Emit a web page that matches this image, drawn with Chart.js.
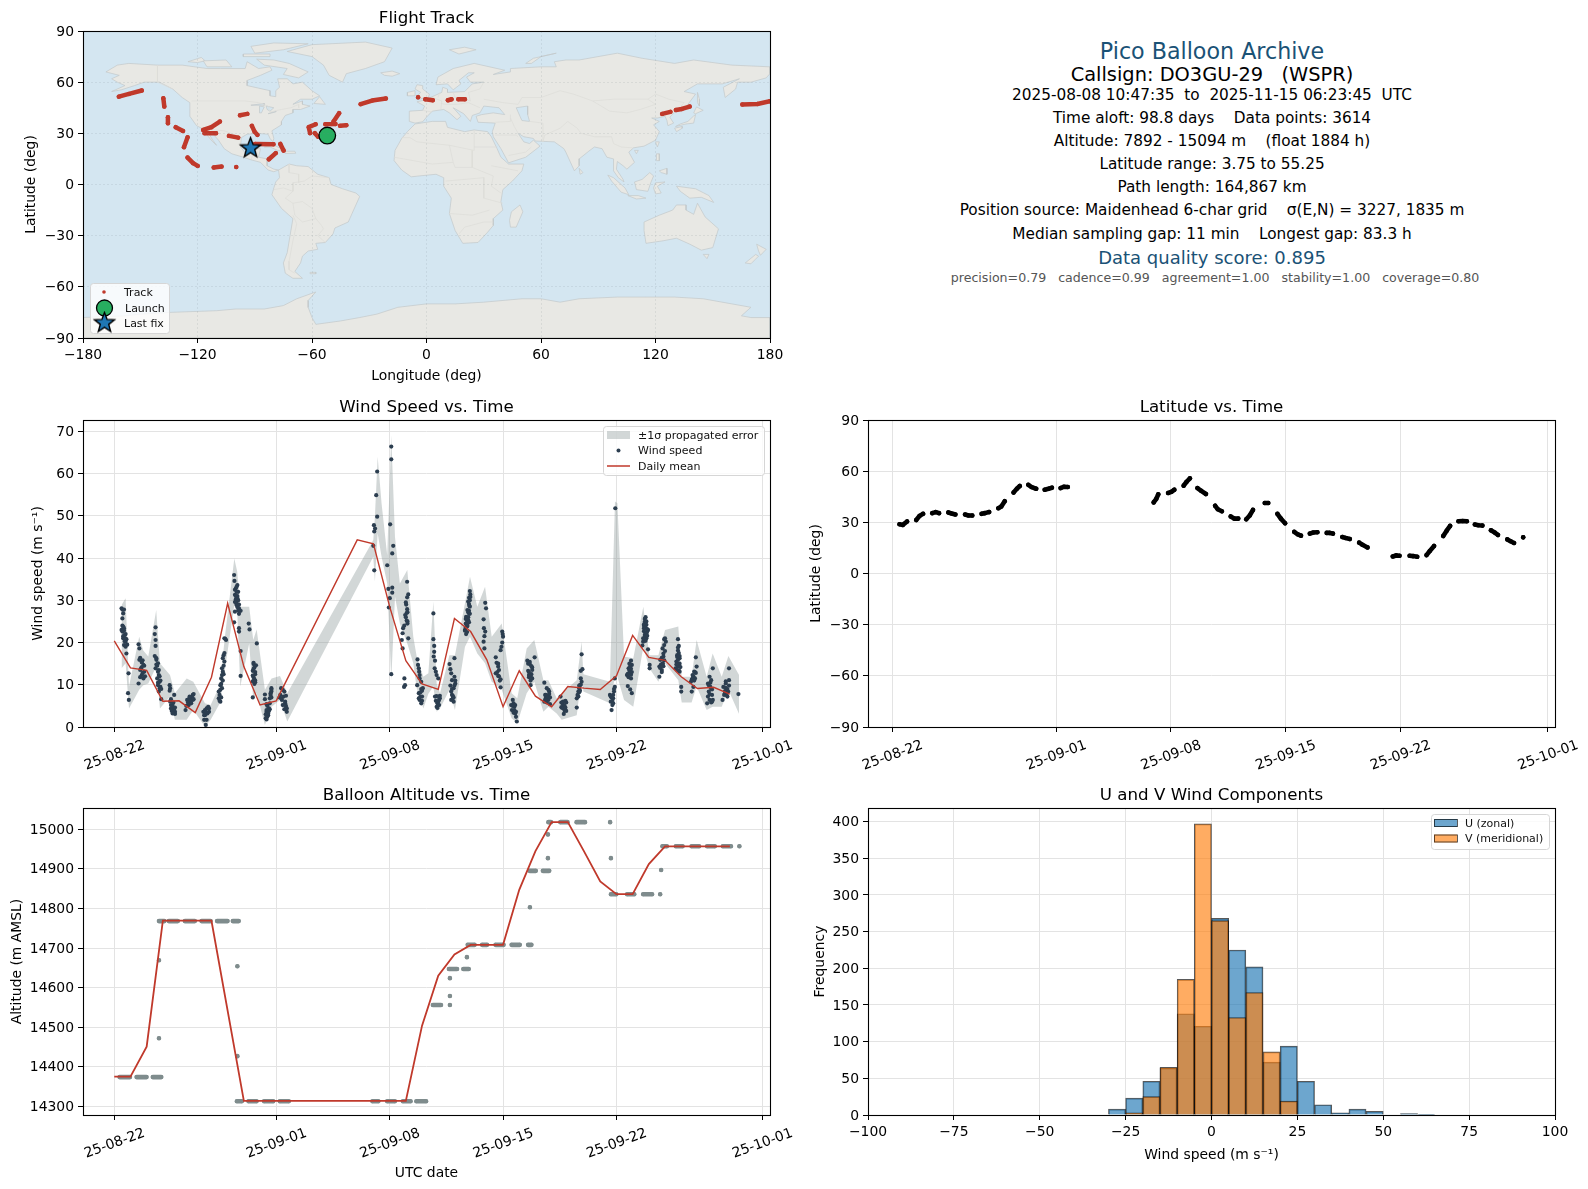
<!DOCTYPE html>
<html>
<head>
<meta charset="utf-8">
<title>Pico Balloon Archive</title>
<script src="https://cdn.jsdelivr.net/npm/chart.js@4/dist/chart.umd.min.js"></script>
<style>
  html, body { margin: 0; padding: 0; background: #fff; width: 1588px; height: 1189px; overflow: hidden; }
  body { position: relative; font-family: "DejaVu Sans", sans-serif; }
  canvas { position: absolute; }
  .info { position: absolute; transform: translate(-50%, -50%); white-space: pre; line-height: 1; }
</style>
</head>
<body>
<canvas id="mapChart"></canvas>
<canvas id="windChart"></canvas>
<canvas id="latChart"></canvas>
<canvas id="altChart"></canvas>
<canvas id="histChart"></canvas>
<script>
// tick labels, x positions are days after 2025-08-22
const dateTicks = [0, 10, 17, 24, 31, 40];
const dateLabels = ["25-08-22", "25-09-01", "25-09-08", "25-09-15", "25-09-22", "25-10-01"];
const lonTicks = [-180, -120, -60, 0, 60, 120, 180];
const latTicks = [-90, -60, -30, 0, 30, 60, 90];
const windTicks = [0, 10, 20, 30, 40, 50, 60, 70];
const altTicks = [14300, 14400, 14500, 14600, 14700, 14800, 14900, 15000];
const histXTicks = [-100, -75, -50, -25, 0, 25, 50, 75, 100];
const histYTicks = [0, 50, 100, 150, 200, 250, 300, 350, 400];

// text block, top right
const infoLines = [
  ["Pico Balloon Archive", 1212, 51, 22.2, "#1a5276"],
  ["Callsign: DO3GU-29   (WSPR)", 1212, 75, 19.4, "#000"],
  ["2025-08-08 10:47:35  to  2025-11-15 06:23:45  UTC", 1212, 96, 15.3, "#000"],
  ["Time aloft: 98.8 days    Data points: 3614", 1212, 119, 15.3, "#000"],
  ["Altitude: 7892 - 15094 m    (float 1884 h)", 1212, 141.5, 15.3, "#000"],
  ["Latitude range: 3.75 to 55.25", 1212, 165, 15.3, "#000"],
  ["Path length: 164,867 km", 1212, 188, 15.3, "#000"],
  ["Position source: Maidenhead 6-char grid    σ(E,N) = 3227, 1835 m", 1212, 211, 15.3, "#000"],
  ["Median sampling gap: 11 min    Longest gap: 83.3 h", 1212, 234.5, 15.3, "#000"],
  ["Data quality score: 0.895", 1212, 258, 18, "#1a5276"],
  ["precision=0.79   cadence=0.99   agreement=1.00   stability=1.00   coverage=0.80", 1215, 278, 12.6, "#555"]
];

// flight track, lon/lat, null breaks the line
const trackPath = [
  [-161.2,51.5],[-155.9,53.1],[-149.2,55.1],null,[-137.9,50.6],[-137.4,45.7],null,[-135.5,39.4],[-135.5,35.9],null,
  [-131.4,33.6],[-127.6,31.4],null,[-125.2,27.7],[-127.1,21.9],null,[-125.2,15.8],[-122.3,12.5],[-119.9,10.9],null,
  [-111.5,10],[-107.4,10.5],null,[-99.7,10.2],null,[-117,32],[-112.7,33.6],[-108.3,36.9],null,[-116.3,30.1],[-110.3,30.1],null,
  [-103.5,28.5],[-98.7,27.5],null,[-97.7,40.6],[-93.9,41.4],null,[-91.5,34.4],[-90.1,31],[-88.6,29.1],null,
  [-89.8,23.8],[-80.2,23.6],null,[-76.6,23.8],[-74.9,19.9],null,[-82.6,14.8],[-79,18.4],null,
  [-61,30.1],[-61.7,33.6],[-58.1,35.3],null,[-58.5,30.1],[-56.9,28.1],null,[-53,35.3],[-47.7,35.5],null,[-45.3,34.4],[-42,34.8],null,
  [-48.7,36.9],[-45.8,41.8],null,[-34.5,47.1],[-28.5,49.2],[-21.3,50.4],null,[-4.4,51.2],null,[-0.6,50],[3.3,49.4],null,
  [11.2,49.4],[13.1,50],null,[16.7,50],[20.1,50],null,[123.5,41.4],[127.8,42.6],null,[130.7,43.7],[133.8,44.3],[137.9,45.7],null,
  [165.5,46.9],[173.4,47.2],[179.9,48.8]
];
const launchFix = [[-52, 28.7]];
const lastFix = [[-92.2, 21.3]];

// land outlines
const landNorthAmerica = [[-168,66],[-162,70],[-156,71],[-141,70],[-128,70],[-115,68],[-108,68],[-95,68],[-94,72],[-88,68],[-82,69],[-81,67],[-87,64],[-94,61],[-94,58],[-88,56.5],[-82,55],[-82,52],[-79,51.5],[-79,55],[-77,57],[-78,62],[-73,62],[-70,59],[-65,60],[-60,55],[-56,52],[-60,50],[-66,50],[-70,47],[-65,49],[-65,47],[-61,46],[-66,44],[-70,44],[-70,42],[-74,40.5],[-76,37],[-76,35],[-81,31.5],[-80,27],[-80.5,25],[-82,27],[-83,29.5],[-89,30],[-94,29.5],[-97,27.5],[-97.5,22],[-95,18.5],[-91,18.5],[-90,21],[-87,21],[-88,16],[-83.5,15],[-83.5,11],[-80,9],[-77.5,8.5],[-80,7.5],[-83,8.5],[-87,13],[-92,14.5],[-96,16],[-102,18],[-106,21],[-109,26],[-113,31],[-115,31.5],[-112,26],[-110,23],[-112,25],[-115,29],[-117,32.5],[-120.5,34.5],[-124,40],[-124,48],[-128,51],[-133,56],[-140,60],[-148,60],[-153,58],[-160,55.5],[-165,54.5],[-158,58],[-162,60],[-165,62],[-161,64]];
const landSouthAmerica = [[-77.5,8.5],[-72,12],[-68,11],[-62,10.5],[-57,6],[-51,4],[-50,0],[-44,-2.5],[-37,-5],[-35,-7],[-37,-12],[-39,-17],[-41,-22],[-48,-25.5],[-49,-29],[-53,-34],[-58,-34.5],[-57,-38],[-62,-39],[-65,-42],[-66,-46],[-69,-51],[-65,-55],[-70,-55],[-74,-52],[-75,-46],[-73,-40],[-71.5,-30],[-70,-20],[-76,-14],[-81,-6],[-80,-2],[-79,1.5],[-77,4]];
const landAfrica = [[-6,35.5],[3,37],[10,37],[11,33.5],[20,31],[25,32],[32,31],[34,28],[37,21],[39,16],[43,12],[51,12],[50,8],[45,2],[40,-3],[39,-10],[40,-15],[35,-20],[35,-24],[32,-28],[27,-34],[19,-34.5],[15,-27],[12,-17],[13,-8],[9,-1],[9,4],[5,6],[-4,5],[-8,4.5],[-13,8.5],[-17,14],[-16.5,20],[-13,27],[-10,31]];
const landEurasia = [[-9,37],[-9,43],[-2,43.5],[-1,46],[-5,48.5],[-1,49.5],[4,52],[8,54],[8.5,57],[11,56],[11,54],[20,54.5],[24,59],[30,60],[23,60],[21,63],[25,65.5],[22,65.5],[17,61],[18,59],[14,55.5],[11,59],[5,58.5],[6,63],[14,68],[25,71],[41,67],[35,64.5],[44,66],[44,68],[60,69],[68,69],[67,72],[73,73],[80,73],[100,77],[113,74],[130,71],[140,73],[160,70],[180,69],[180,65],[178,62.5],[170,60],[163,60],[162,56],[156.5,51],[155.5,57],[164,62],[155,59],[142,59],[135,54.5],[141,53],[135,44],[130,42.5],[127.5,39.5],[129.5,36],[126.5,34.5],[126,37.5],[125,40],[121,39],[118,39],[122,37],[119,35],[122,31],[120,26],[114,22.5],[108.5,21.5],[106,19],[109,13],[105,9],[103,11],[100,13.5],[99.5,9],[103,3],[103.5,1.5],[100.5,4],[98,8],[98,15],[94.5,16],[92,21],[88,22],[85,19.5],[80,15],[80,11],[77.5,8],[73,19],[72,21],[67,25],[57,25.5],[56,27],[51,28],[48,30],[51,25],[54,24],[56,26],[59.5,22.5],[52,16],[43,12.7],[39,21],[35,28],[34.5,31],[36,36],[27,36.5],[26,40],[29,41],[35,42],[41,41],[38,45],[30,46],[28,42],[24,40.5],[23,37],[19.5,41.5],[14,45],[18,40],[16,38],[12,42],[9,44],[3,43],[0,39.5],[-2,36.8],[-6,36]];
const landAntarctica = [[-180,-78],[-158,-77],[-150,-76],[-135,-75],[-110,-74],[-100,-73],[-85,-73],[-75,-71],[-68,-67],[-58,-63],[-62,-68],[-62,-72],[-60,-78],[-58,-82],[-45,-80],[-35,-78],[-26,-76],[-15,-72],[0,-70],[15,-70],[30,-69],[50,-67],[60,-67],[70,-69],[80,-67],[100,-66],[115,-66],[130,-66],[145,-67],[160,-70],[170,-72],[165,-77],[170,-78],[180,-78],[180,-90],[-180,-90]];
const landGreenland = [[-73,78],[-60,82],[-32,83.5],[-18,80],[-22,72],[-32,68],[-42,65],[-44,60],[-51,64],[-54,70],[-60,75]];
const landAustralia = [[114,-22],[122,-18],[129,-15],[131,-12],[136,-12],[136,-15],[140,-17.5],[142,-11],[146,-19],[153,-26],[150,-37],[144,-38.5],[138,-35],[131,-31.5],[124,-33],[115,-34.5],[114,-27]];
const landIslands = [
  [[-80,73],[-72,71],[-62,66],[-67,62.5],[-75,64.5],[-73,68],[-85,70],[-89,73.5]],
  [[-117,72.5],[-105,73],[-102,69],[-115,69]],
  [[-90,77],[-75,79],[-62,82.5],[-80,83],[-92,81]],
  [[-125,72],[-118,74.5],[-116,72.5],[-120,71.5]],
  [[-96,75],[-82,75],[-82,76.5],[-96,76.5]],
  [[-59,47.5],[-53,47],[-56,51.5]],
  [[142,54],[143,50],[143,46],[142,48]],
  [[141,41.5],[145,43.5],[141.5,45.5],[140,42]],
  [[130.5,34],[136,35.5],[140,36],[141,41],[139.8,40],[137,37],[133,35.5]],
  [[130,33],[134,34],[134,33],[131,31]],
  [[120,25],[122,25],[121,22]],
  [[109,20],[111,20],[110,18]],
  [[120.5,18],[122,18],[122,14],[120.5,14]],
  [[122,8],[126,9.5],[126,6],[123,7]],
  [[109,1.5],[113,3],[117,7],[119,5],[117.5,1],[116,-4],[110,-3]],
  [[95,5.5],[98,4],[104,-2],[106,-6],[102,-4.5],[97,2]],
  [[105.5,-6.5],[111,-6.5],[115,-8],[110,-8.5]],
  [[120,1],[125,1.5],[121,-1],[123,-5],[120,-5.5],[119,-2]],
  [[131,-1],[141,-2.5],[148,-6.5],[150.5,-10.5],[144,-7.5],[138,-8],[133,-4]],
  [[173,-35],[178,-38],[175,-41.5],[174,-39]],
  [[172.5,-41],[174,-42],[170,-46.5],[167,-46]],
  [[145,-41],[148,-41],[147,-43.5]],
  [[49,-12],[50.5,-16],[47,-25],[44,-25],[43.5,-21],[44.5,-16]],
  [[80,9.5],[82,7],[80.5,6]],
  [[-5,50],[1,51],[1.5,53],[-2,56],[-2,58],[-5,58.5],[-6,56],[-3,54],[-5,52]],
  [[-10,52],[-6,52],[-6,55],[-10,54]],
  [[-24,65.5],[-18,66.5],[-14,65],[-18,63.5],[-22,64]],
  [[12,79],[20,80.5],[26,79],[17,76.5]],
  [[52,71],[56,74],[68,77],[60,75],[55,71]],
  [[-85,22],[-80,23],[-74,20],[-78,20],[-82,22]],
  [[-74,19.5],[-69,19.5],[-68.5,18.3],[-74,18.2]],
  [[-61,-51.5],[-58,-51.5],[-58,-52.3],[-61,-52.3]]
];
const waterShapes = [
  [[47,45],[53,46],[53,41],[54,37],[50,37.5],[49,40]],
  [[-92,46.5],[-85,47.5],[-85,46.5],[-90,46.5]],
  [[-87.5,46],[-85,45.5],[-86.5,42],[-87.5,42]],
  [[-84,46],[-80,45],[-82,43],[-83.5,44]],
  [[-83,41.5],[-79,43],[-79,42.5]]
];
const borderLines = [
  [-141,70],[-141,60],[-133,56],null,[-123,49],[-95,49],[-88,48],[-83,46],[-82,42.5],[-76,44],[-71,45],[-67,47],[-67,45],null,
  [-117,32.5],[-106,31.5],[-101,29.5],[-97,26],null,[-92,14.5],[-91,17.5],[-89,18],null,
  [-51,4],[-60,5],[-64,2],[-70,1],[-70,-4],[-74,-8],[-70,-11],[-65,-10],[-60,-14],[-58,-20],[-55,-24],[-54,-26],[-57,-30],[-53,-34],null,
  [-70,-18],[-68,-23],[-70,-33],[-72,-45],[-72,-50],[-69,-52],null,[-72,12],[-72,7],[-67,6],[-67,1],null,[-80,-3],[-75,-2],[-70,-4],null,
  [-70,-11],[-69,-18],[-65,-22],[-58,-20],null,
  [-13,27.5],[-8.7,27.5],[-5,25],[12,23],[25,20],[25,32],null,[25,22],[37,22],null,[12,23],[14,13],[3,12],[-12,15],[-17,16],null,
  [24,20],[24,10],[15,10],[14,13],null,[24,10],[35,5],[34,-1],[39,-5],null,[10,2],[30,4],[30,-8],[40,-11],null,[12,-17],[24,-18],[33,-15],null,
  [17,-29],[20,-25],[30,-22],[35,-22],null,[34,11],[48,8],null,
  [-1.8,43.4],[3,42.5],null,[3,51],[8,49],[7.5,44],null,[6,51],[7,54],null,[14,54],[15,51],[23,49],[22,54],[28,56],[30,60],null,
  [28,45],[22,48],[16,47],[10,47],[7.5,47.5],null,
  [30,50],[40,48],[48,47],[50,51],[60,51],[70,55],[77,53],[87,49],[98,50],[108,50],[116,50],[120,53],[127,50],[135,48],[131,43],null,
  [87,49],[96,43],[105,42],[112,44],[120,47],[116,50],null,[74,37],[79,33],[81,30],[88,28],[97,28],[98,24],[102,22],[108,21.5],null,
  [61,25],[62,29],[70,33],[74,37],null,[44,39],[46,34],[48,30],null,[61,25],[61,36],[54,37],null,[36,36.5],[44,37],[44,41],null,
  [36,29],[47,29],[48,28],null,[43,17],[52,19],[55,22]
];

// wind speed: day, m/s, one row per cluster of dots
const windPoints = [
  [0.45,28.1],[0.55,26.9],[0.5,25.7],[0.6,23.4],[0.5,22.6],[0.65,21.8],[0.55,21],[0.7,20.2],[0.6,19.4],[0.75,17.4],[0.88,12.7],[0.85,8],[0.9,6.4],
  [0.5,24],[0.6,22.8],[0.7,22],[0.55,21.5],[0.75,20.8],[0.65,20.3],[0.8,19.5],[0.45,23],[0.55,23.8],[0.65,21],[0.7,19],[0.5,27.8],[0.6,27.8],
  [1.5,19.6],[1.55,18.6],[1.55,15.9],[1.7,15.3],[1.8,14.7],[1.65,13.9],[1.85,13.1],[1.7,12.3],[1.8,11.5],[1.5,10.3],
  [1.6,16.4],[1.75,15.8],[1.85,14.5],[1.6,13.5],[1.75,12.8],[1.9,12],[1.6,11.8],[1.7,14.2],
  [2.55,23.6],[2.5,22],[2.55,20.6],[2.55,19.2],[2.5,16.8],[2.6,15.9],[2.7,15.1],[2.55,13.9],[2.7,13.1],[2.75,12.3],[2.65,11.5],[2.8,10.7],[2.7,9.9],[2.8,9.2],[2.75,8.4],[2.9,6.6],
  [2.6,16.3],[2.65,14.5],[2.75,13.5],[2.8,12],[2.85,11],[2.85,9.5],[2.6,14.8],[2.7,10.5],[2.9,9],
  [3.42,9.9],[3.45,9.2],[3.7,7.6],[3.45,6],[3.6,5.2],[3.5,4.4],[3.75,3.6],[3.75,3.1],
  [3.5,5.2],[3.6,4.6],[3.7,4],[3.55,3.8],[3.65,5.8],[3.75,4.6],[3.42,8.6],[3.6,3.2],[3.5,6.6],
  [4.85,7.6],[4.7,6.8],[4.5,6.4],[4.75,5.6],[4.4,4],[4.6,5.2],[4.85,6.4],
  [4.6,6.6],[4.7,6],[4.8,7],[4.9,7.8],[4.55,5.8],[4.45,5],[4.65,7.2],[4.9,6.6],
  [5.7,4.4],[5.85,3.6],[5.55,2.8],[5.7,1.7],[5.6,2.8],[5.65,0.5],[5.5,3.6],
  [5.6,4],[5.75,3.2],[5.8,4.8],[5.65,3.6],[5.85,4.4],[5.55,1.7],
  [6.8,21],[6.9,20.6],[6.75,17],[6.7,16.3],[6.8,15.5],[6.65,13.9],[6.7,13.1],[6.65,12.3],[6.6,11.5],[6.55,9.9],[6.45,8.4],[6.5,7.6],[6.45,6.8],[6.55,6],
  [6.55,8.8],[6.6,7],[6.5,6.2],[6.65,9.2],[6.7,11],[6.75,14.5],[6.8,17.5],[6.75,12.5],[6.6,10.2],[6.85,20.9],
  [7.4,36],[7.42,34.6],[7.6,33.6],[7.5,32.8],[7.65,32],[7.45,31.3],[7.6,30.5],[7.5,29.7],[7.55,28.9],[7.7,28.1],[7.45,27.3],[7.7,26.8],[7.4,24.8],[7.7,23.4],[7.7,22.6],[7.8,18],[7.8,12.1],
  [7.45,32.5],[7.55,32],[7.6,31],[7.5,30.2],[7.65,30],[7.55,29.2],[7.6,28.4],[7.7,29],[7.8,27.5],[7.5,31],[7.65,27.6],[7.55,33.2],[7.45,29.6],
  [8.3,24.5],[8.35,23.1],[8.8,19.8],[8.6,14.9],[8.65,14.1],[8.55,13.3],[8.7,12.5],[8.6,11.8],[8.7,11],[8.65,10.2],[8.55,7],
  [8.6,13.8],[8.7,13],[8.55,12.2],[8.65,11.3],[8.75,14.6],[8.7,10.6],[8.6,15.2],[8.55,10.8],
  [9.3,7.7],[9.3,6.6],[9.7,9.2],[9.7,8.4],[9.65,7.6],[9.6,6.8],[9.55,4.4],[9.4,3.6],[9.5,2.8],[9.35,2.1],[9.45,5],[9.6,4.2],[9.4,5.4],
  [9.4,4],[9.5,3.2],[9.45,2.4],[9.55,3.8],[9.35,3],[9.4,1.8],[9.65,8],[9.7,7],[9.6,5.6],[9.7,8.8],
  [10.3,9.2],[10.5,8.4],[10.25,7.6],[10.2,7],[10.55,6],[10.4,5.2],[10.6,4.4],[10.65,3.6],[10.35,6.4],
  [10.45,7.2],[10.55,5.6],[10.6,5],[10.5,4.2],[10.65,4.4],[10.4,8.8],[10.3,6.8],[10.6,7.4],
  [16.23,60.5],[16.17,54.9],[16.23,49.8],[16.03,47.8],[16.1,47],[16.05,46.3],[15.99,42.9],[16.05,37.1],
  [17.1,66.4],[17.1,63.4],[17.03,48],[17.22,42.9],[17.16,41.1],[16.85,38.3],[16.92,32.7],[17.16,33],[17.16,31.8],[17.01,30.5],[16.95,28.3],[17.1,12.5],
  [18.08,34.4],[18.15,31.4],[18.08,30.7],[18.02,29],[18.08,27.9],[17.96,26.5],[18.05,25.2],[18.1,24.5],[17.83,23.4],[17.8,22.2],[18.15,21],[17.75,20.6],[17.8,18.6],[17.91,11.5],[17.95,9.9],[17.89,9.5],
  [18,26],[18.1,25],[18.05,27],[17.9,24],[18.1,27.2],[18,29.5],
  [18.72,16],[18.75,14.7],[18.8,13.9],[18.82,13.1],[18.85,12.3],[18.95,10.7],[18.7,9.9],[19.05,9.2],[18.8,8],[18.9,7.2],[18.85,6.4],[18.95,5.6],[19,8.6],
  [18.85,11.5],[18.95,9],[18.9,8.2],[19,7.2],[19,6.2],[18.8,6.8],
  [19.7,26.9],[19.7,20.8],[19.75,19.2],[19.75,17.8],[19.72,16.7],[19.8,15.7],[19.78,13.9],[19.85,13.1],[19.9,12.3],[20,11.5],[19.8,7.2],[20.05,6.4],[19.95,5.6],[19.9,4.8],[20.1,7.4],
  [19.85,6.2],[20,6],[19.9,7.3],[20.05,5.2],[19.95,4.5],[20.1,6.8],
  [21,16.3],[20.7,14.9],[20.75,13.7],[20.8,12.7],[21,11.9],[20.85,11.1],[21.05,10.3],[20.95,9.2],[20.8,8.4],[20.85,7.6],[20.9,6.8],[20.95,6],
  [20.85,9],[20.9,7.4],[20.95,7],[20.8,6.4],[21,9.8],[21.05,11],[20.75,9.8],
  [21.95,32.2],[21.98,31.4],[21.9,30.6],[21.85,29.7],[21.95,28.5],[21.8,27.7],[21.9,26.9],[21.72,26.1],[21.85,25.3],[21.7,24.5],[21.78,23.8],[21.65,23],[21.72,22],[21.9,29.1],[21.8,25],
  [21.65,22.8],[21.7,23.6],[21.75,24.4],[21.8,25.2],[21.85,26],[21.9,27.5],[21.92,28.7],[21.95,30],[21.98,30.8],[21.7,25.6],[21.8,24],[21.85,27.2],[21.95,26.8],[21.9,24.8],[21.78,22.5],
  [22.9,29.4],[22.95,28.1],[22.8,25.5],[22.82,23.4],[22.9,22.6],[22.85,21.5],[22.8,20.2],[22.85,18.6],
  [23.95,22.6],[24,21.4],[23.9,19],[23.85,18.2],[23.55,16.5],[23.6,15.2],[23.7,14.3],[23.75,13.5],[23.55,12.7],[23.7,12.1],[23.85,11.3],[23.85,9.4],
  [23.7,15],[23.65,13],[23.75,12],[23.8,11],[23.95,20],[23.98,22],
  [24.6,6.4],[24.65,5.6],[24.7,4.8],[24.55,4],[24.75,3.2],[24.8,2.4],[24.85,1.3],[24.5,5.2],
  [24.6,5],[24.7,4],[24.75,5.2],[24.65,3.4],[24.8,3.6],
  [25.95,16.5],[25.5,15.7],[25.65,14.9],[25.8,14.1],[25.55,13.3],[25.75,12.5],[25.6,11.8],[25.7,11],[25.7,9.9],
  [25.6,13],[25.7,12],[25.8,13.5],[25.75,14.4],[25.65,15.4],[25.6,12.3],[25.55,15],[25.8,11.5],
  [26.55,10.5],[26.7,9.2],[26.85,8.4],[26.6,7.6],[26.75,6.8],[26.55,6],[26.9,5.4],[26.65,7],
  [26.65,7.6],[26.75,7.2],[26.8,6.4],[26.7,5.8],[26.85,7.8],[26.6,6.5],[26.8,8.8],[26.9,7],
  [27.55,7.2],[27.85,6.2],[27.7,5.4],[27.6,4.7],[27.8,3.9],[27.75,3.1],[27.9,5.8],
  [27.7,6],[27.8,5],[27.65,4.5],[27.75,4.4],[27.85,4.6],[27.6,5.8],[27.9,3.8],
  [28.85,17.2],[28.9,13.7],[28.8,13.3],[28.8,11.5],[28.85,10.7],[28.75,9.9],[28.7,9.2],[28.65,8.4],[28.6,7.6],[28.55,6.8],[28.55,4.6],
  [28.7,8.2],[28.65,7.2],[28.75,8.6],[28.8,10],[28.7,9.8],
  [30.93,51.8],[30.9,11.5],[30.9,9.5],[30.85,8.4],[30.6,7.6],[30.8,6.8],[30.65,6],[30.75,5.2],[30.7,4],
  [30.7,7],[30.8,7.6],[30.75,6.2],[30.65,7.2],[30.85,9],[30.8,5.6],
  [31.9,15.7],[31.95,14.7],[31.75,13.9],[31.85,13.1],[31.65,12.3],[31.9,11.5],[31.7,9.7],[31.85,8.9],[31.95,8],[31.8,12.7],
  [31.8,13.4],[31.9,13.8],[31.85,14.4],[31.7,12.6],[31.75,11.8],[31.9,12.4],[31.95,13],[31.8,15],
  [32.8,26],[32.75,24.9],[32.85,24.2],[32.7,23.4],[32.9,22.6],[32.75,21.8],[32.85,21],[32.65,20.2],[32.6,19.3],[32.95,18.4],[33.05,14.7],[33.05,13.9],[32.8,22],[32.7,24.3],
  [32.75,25.6],[32.85,25],[32.7,24],[32.8,23.5],[32.9,23.2],[32.7,22.7],[32.85,22.2],[32.75,21.3],[32.9,21.6],[32.7,20.6],[32.8,20.4],[32.65,21],[32.95,23],
  [34,21],[34.05,20.2],[33.95,19.4],[33.85,18.6],[33.9,16.7],[33.7,15.9],[33.85,15.1],[33.65,14.3],[33.8,13.5],[33.65,11.9],
  [33.9,17.4],[33.8,16.4],[33.95,15.8],[33.85,14.9],[33.75,14.8],[33.9,14.4],[33.7,14],[33.8,13],[34,18],[33.95,20.8],
  [34.8,20.8],[34.85,19.2],[34.8,18.1],[34.75,17],[34.9,16.3],[34.7,15.5],[34.85,14.7],[34.65,13.9],[34.9,13.1],[35,9.5],[35,8.4],[34.8,15.9],
  [34.85,17.5],[34.75,16.6],[34.9,15],[34.8,14.4],[34.75,13.5],[34.85,13.4],[34.9,16.8],[34.8,18.8],[34.7,14.8],[34.95,14.2],
  [35.9,16.5],[35.95,14.3],[35.8,13.1],[35.7,12.3],[35.85,11.5],[35.6,10.7],[35.75,9.5],[35.65,8.4],
  [35.85,13],[35.75,12],[35.9,12.8],[35.7,11.5],[35.8,11],[35.65,11.2],
  [36.95,13.9],[36.75,11.9],[36.85,11.1],[36.65,10.3],[36.8,9.5],[36.7,8.4],[36.9,7.6],[36.95,6.4],[36.6,5.6],[36.85,5.8],
  [36.8,10.5],[36.7,9.9],[36.85,9],[36.75,7.8],[36.9,8.9],[36.65,7.2],[36.75,6.4],[36.9,6],
  [37.95,13.9],[37.95,11.1],[37.75,10.3],[37.6,9.5],[37.8,8.8],[37.7,8],[37.85,7.2],[37.55,6.4],
  [37.75,9.3],[37.85,9],[37.7,8.5],[37.8,7.6],[37.9,8.4],[37.65,7.6],[37.95,9.8],[37.75,10.8],
  [38.53,7.8]
];
// propagated error band: day, upper and lower edge
const bandDays = [0.45,0.7,0.91,1.54,1.79,2.1,2.59,2.82,3.44,3.74,4.47,4.88,5.6,5.95,6.52,6.83,7.41,7.59,7.78,8.33,8.58,8.79,9.3,9.71,10.23,10.68,15.99,16.09,16.26,16.5,16.85,17.1,17.33,17.63,18.09,18.46,18.67,19.08,19.39,19.7,19.9,20.11,20.69,21.03,21.65,21.96,22.41,22.89,23.3,23.92,24.53,24.88,25.46,25.93,26.49,26.8,27.31,27.62,28.55,28.85,28.96,30.6,30.91,31.06,31.47,32.04,32.66,33.03,33.59,34,34.82,35.03,35.64,35.95,36.57,36.94,37.5,37.91,38.57];
const bandUpper = [28.9,30.5,9.6,21.4,18.1,16.7,27.7,15.1,12.3,8,11.5,10.7,5.6,5.2,9.9,21.4,39.9,36.8,28.5,28.5,20.6,23.1,8.8,11.5,12.1,8,44.3,49.8,64,53,40.7,69.1,45,34,37.2,21.4,16.7,11.9,12.7,29.7,10.3,8,17,17,29.3,35.6,28.5,33.2,21.4,24.5,8,6.8,18.6,20.6,11.1,11.1,6.8,8,11.1,20.2,12.5,10.7,53.4,53,16.7,16.3,28.5,17,17,23,23.8,11.9,11.9,20.6,11.9,17.4,11.9,16.8,12.3];
const bandLower = [13.9,15.1,4.4,8.8,9.9,10.3,14.3,4.4,7.2,1.7,1.7,4,0.1,1.7,5.6,13.5,28.9,27.3,9.6,19.8,6.4,8,0.5,4.8,6.4,1.3,40.3,34.4,45.9,40.3,34,11.1,30.9,24.5,19.8,15.1,9.2,4.4,7.9,9.6,3.6,4.4,8.8,4,19,21.4,17.4,15.1,10.7,8.8,2.1,0.9,8,10.7,3.6,4.8,3.2,1.7,2.8,11.9,8.4,5.6,11.9,11.9,6.4,4.8,19,13.9,10.7,15.1,11.1,5.8,5.8,9.6,4,4.8,4.8,8.8,3.1];
const meanWindDays = [0,1,2,3,4,5,6,7,8,9,10,15,16,17,18,19,20,21,22,23,24,25,26,27,28,29,30,31,32,33,34,35,36,37,38];
const meanWind = [20.4,14,13.4,6.1,6.2,3.4,11.8,29.3,14.3,5.2,6.2,44.3,43.4,28.5,15.7,10.2,8.9,25.7,22.6,15.9,4.8,13.3,7.3,4.8,9.6,9.2,8.9,12.1,21.7,16.5,15.8,11.9,9.1,9.4,7.8];

// latitude: day, deg
const latPath = [
  [0.44,28.9],[0.64,28.5],[0.9,30.5],null,[1.46,31.4],[1.67,33.8],[1.88,35],null,[2.44,35.4],[2.65,36],[2.85,35.4],null,
  [3.42,35.8],[3.62,35.2],[3.85,34.6],null,[4.44,34.6],[4.65,34],[4.88,34],null,[5.45,35],[5.65,35.4],[5.91,36],null,
  [6.47,38.3],[6.65,39.3],[6.86,42.4],null,[7.4,47.5],[7.6,49.7],[7.78,51.3],null,[8.3,52],[8.5,50.7],[8.78,49.7],null,
  [9.3,49.1],[9.53,49.7],[9.74,50.3],null,[10.27,50.1],[10.48,50.9],[10.71,50.7],null,[15.95,41.7],[16.11,43.8],[16.23,46.4],null,
  [16.83,47.2],[17.03,47.9],[17.21,49.1],null,[17.78,51.5],[17.96,53.8],[18.16,55.8],null,[18.62,50.1],[18.85,48.5],[19.14,46.6],null,
  [19.7,39.7],[19.86,37.7],[20.11,36.5],null,[20.65,33.4],[20.86,32.2],[21.11,32.2],null,[21.6,31.8],[21.81,34],[22.01,37.3],null,
  [22.73,41.3],[22.94,41.3],null,[23.5,35],[23.71,32.2],[23.97,29.5],null,[24.53,24.4],[24.74,23],[24.94,22.2],null,
  [25.48,23.4],[25.69,24],[25.94,24.2],null,[26.51,23.8],[26.69,23.8],[26.89,23.4],null,[27.46,21.4],[27.67,20.8],[27.92,20.2],null,
  [28.49,18.1],[28.69,16.9],[29,15.3],null,[30.54,10],[30.75,10.6],[30.95,10.4],null,[31.57,10.4],[31.78,10.2],[32.03,9.8],null,
  [32.6,10.8],[32.8,13.2],[33.06,16.1],null,[33.62,22],[33.83,25.1],[34.04,27.9],null,[34.55,30.6],[34.81,30.8],[35.06,30.6],null,
  [35.55,28.7],[35.76,28.3],[36.01,28.1],null,[36.53,25.3],[36.76,24],[36.96,22.6],null,[37.53,20],[37.73,18.9],[37.94,17.9],null,[38.5,21.2]
];

// altitude: day, m
const altPath = [
  [0.33,14374],[0.97,14374],null,[1.38,14374],[1.99,14374],null,[2.38,14374],[2.9,14374],null,
  [2.76,14768],[3.09,14768],null,[3.37,14768],[3.92,14768],null,[4.36,14768],[4.97,14768],null,[5.39,14768],[5.94,14768],null,
  [6.35,14768],[6.99,14768],null,[7.32,14768],[7.68,14768],null,
  [7.57,14313],[7.87,14313],null,[8.29,14313],[8.78,14313],null,[9.25,14313],[9.81,14313],null,[10.22,14313],[10.77,14313],null,
  [15.94,14313],[16.3,14313],null,[16.85,14313],[17.32,14313],null,[17.82,14313],[18.29,14313],null,[18.65,14313],[19.25,14313],null,
  [19.67,14556],[20.17,14556],null,[20.66,14647],[21.16,14647],null,[21.55,14647],[21.88,14647],null,
  [21.82,14708],[22.24,14708],null,[22.71,14708],[23.01,14708],null,[23.54,14708],[24.03,14708],null,[24.53,14708],[25.03,14708],null,[25.55,14708],[25.75,14708],null,
  [25.64,14895],[26.02,14895],null,[26.46,14895],[26.85,14895],null,
  [26.8,15018],[26.96,15018],null,[27.54,15018],[27.98,15018],null,[28.54,15018],[29.06,15018],null,[30.61,15018],null,
  [30.66,14836],[30.99,14836],null,[31.66,14836],[32.1,14836],null,[32.65,14836],[33.2,14836],null,[33.7,14836],null,
  [33.84,14957],[34.11,14957],null,[34.67,14957],[35.08,14957],null,[35.64,14957],[36.1,14957],null,[36.6,14957],[37.07,14957],null,[37.57,14957],[38.07,14957],null,[38.59,14957],null,
  [2.76,14669],null,[2.76,14472],null,[7.6,14654],null,[7.6,14427],null,[20.72,14624],null,[20.72,14579],null,[20.72,14556],null,
  [21.77,14677],null,[25.66,14803],null,[26.77,14987],null,[26.77,14927],null,[30.66,14927],null,[33.76,14897]
];
const meanAltDays = [0,1,2,3,6,8,18,19,20,21,22,24,25,26,27,28,29,30,31,32,33,34,38];
const meanAlt = [14375,14375,14451,14769,14769,14314,14314,14504,14630,14684,14708,14708,14847,14945,15018,15018,14944,14868,14836,14836,14912,14957,14957];

// histogram bins, 5 m/s wide
const binCentres = [-27.5,-22.5,-17.5,-12.5,-7.5,-2.5,2.5,7.5,12.5,17.5,22.5,27.5,32.5,37.5,42.5,47.5,52.5,57.5,62.5];
const uCounts = [8,23,46,64,138,121,268,225,202,72,94,46,14,3,8,5,0,2,1];
const vCounts = [0,3,25,65,185,397,265,133,167,86,19,0,0,0,0,0,0,0,0];

const FONT = "'DejaVu Sans'";
const TRACK_RED = "#c0392b";
const GRID = "#e3e3e3";

function pts(list) {
  return list.map((p, i) => p ? { x: p[0], y: p[1] } : { x: list[i - 1][0], y: null });
}
function zip(xs, ys) {
  return xs.map((x, i) => ({ x, y: ys[i] }));
}
function minusSign(v) {
  return String(v).replace("-", "\u2212");
}

// filled 5 point star, used as point style
function makeStar(r) {
  const size = Math.ceil(r * 2 + 4);
  const c = document.createElement("canvas");
  c.width = size;
  c.height = size;
  const g = c.getContext("2d");
  g.beginPath();
  for (let i = 0; i < 10; i++) {
    const rad = i % 2 ? r * 0.42 : r;
    const a = -Math.PI / 2 + i * Math.PI / 5;
    g.lineTo(size / 2 + rad * Math.cos(a), size / 2 + rad * Math.sin(a));
  }
  g.closePath();
  g.fillStyle = "#1f77b4";
  g.fill();
  g.lineWidth = 1.4;
  g.strokeStyle = "#000";
  g.stroke();
  return c;
}
const starMark = makeStar(10.5);

// axes frame and optional plot background
const framePlugin = {
  id: "frame",
  beforeDraw(chart, args, opts) {
    if (!opts.fill) return;
    const a = chart.chartArea, ctx = chart.ctx;
    ctx.save();
    ctx.fillStyle = opts.fill;
    ctx.fillRect(a.left, a.top, a.width, a.height);
    ctx.restore();
  },
  afterDraw(chart) {
    const a = chart.chartArea, ctx = chart.ctx;
    ctx.save();
    ctx.strokeStyle = "#000";
    ctx.lineWidth = 1.1;
    ctx.strokeRect(Math.round(a.left) + 0.5, Math.round(a.top) + 0.5, Math.round(a.width), Math.round(a.height));
    ctx.restore();
  }
};

// matplotlib style legend inside the axes, coordinates are page pixels
const boxLegend = {
  id: "boxLegend",
  afterDraw(chart, args, opts) {
    if (!opts.box) return;
    const ctx = chart.ctx;
    const ox = chart.canvas.offsetLeft, oy = chart.canvas.offsetTop;
    const [x, y, w, h] = opts.box;
    ctx.save();
    ctx.translate(-ox, -oy);
    ctx.beginPath();
    ctx.roundRect(x + 0.5, y + 0.5, w, h, 3);
    ctx.fillStyle = "rgba(255,255,255,0.8)";
    ctx.fill();
    ctx.strokeStyle = "#d6d6d6";
    ctx.lineWidth = 1;
    ctx.stroke();
    ctx.font = "11px " + FONT;
    ctx.textBaseline = "middle";
    ctx.textAlign = "left";
    opts.rows.forEach(r => {
      const mid = (r.x0 + r.x1) / 2;
      if (r.kind === "dot" || r.kind === "circle") {
        ctx.beginPath();
        ctx.arc(mid, r.y, r.size, 0, Math.PI * 2);
        ctx.fillStyle = r.color;
        ctx.fill();
        if (r.kind === "circle") { ctx.strokeStyle = "#000"; ctx.lineWidth = 1.3; ctx.stroke(); }
      } else if (r.kind === "star") {
        ctx.drawImage(starMark, mid - starMark.width / 2, r.y - starMark.height / 2);
      } else if (r.kind === "line") {
        ctx.beginPath();
        ctx.moveTo(r.x0, r.y);
        ctx.lineTo(r.x1, r.y);
        ctx.strokeStyle = r.color;
        ctx.lineWidth = 1.5;
        ctx.stroke();
      } else if (r.kind === "patch") {
        ctx.fillStyle = r.color;
        ctx.fillRect(r.x0, r.y - 4, r.x1 - r.x0, 8);
        if (r.edge) { ctx.strokeStyle = r.edge; ctx.lineWidth = 1; ctx.strokeRect(r.x0 + 0.5, r.y - 3.5, r.x1 - r.x0, 7); }
      }
      ctx.fillStyle = "#111";
      ctx.fillText(r.label, r.tx, r.y + 1);
    });
    ctx.restore();
  }
};

function axis(o) {
  const isX = o.side === "x";
  const scale = {
    type: "linear",
    min: o.min,
    max: o.max,
    offset: false,
    border: { display: false },
    grid: {
      color: o.gridColor || GRID,
      lineWidth: 1,
      offset: false,
      tickLength: 5,
      tickColor: "#000",
      tickWidth: 1,
      z: o.gridZ || -1
    },
    title: {
      display: !!o.title,
      text: o.title || "",
      color: "#000",
      font: { family: FONT, size: 13.9, lineHeight: 1.2, weight: "normal" },
      padding: 0
    },
    ticks: {
      autoSkip: false,
      color: "#000",
      font: { family: FONT, size: 13.9 },
      padding: o.tickPad !== undefined ? o.tickPad : (o.rotate ? 5 : (isX ? 3 : 4)),
      labelOffset: isX ? 0 : 1,
      callback: (v, i) => o.labels ? o.labels[i] : minusSign(v)
    },
    afterBuildTicks: s => { s.ticks = o.ticks.map(value => ({ value })); },
    afterFit: s => { if (isX) s.height = o.size; else s.width = o.size; }
  };
  if (o.dash) scale.border.dash = o.dash;
  if (o.rotate) {
    scale.ticks.minRotation = o.rotate;
    scale.ticks.maxRotation = o.rotate;
    scale.ticks.labelOffset = 30;
  } else if (isX) {
    scale.ticks.maxRotation = 0;
  }
  return scale;
}

// plot = left, top, right, bottom in page pixels
function panel(id, plot, yTitleX, canvasBottom, cfg) {
  const left = Math.round(yTitleX - 8.3);
  const top = plot[1] - 30;
  const right = plot[2] + 26;
  const el = document.getElementById(id);
  el.width = right - left;
  el.height = canvasBottom - top;
  el.style.left = left + "px";
  el.style.top = top + "px";
  const xOpts = Object.assign({ side: "x", size: canvasBottom - plot[3] }, cfg.x);
  const yOpts = Object.assign({ side: "y", size: plot[0] - left }, cfg.y);
  return new Chart(el, {
    type: cfg.type || "line",
    data: { datasets: cfg.datasets },
    plugins: [framePlugin, boxLegend],
    options: {
      responsive: false,
      animation: false,
      events: [],
      layout: { padding: { left: 0, top: 0, right: 26, bottom: 0 } },
      scales: { x: axis(xOpts), y: axis(yOpts) },
      plugins: {
        legend: { display: false },
        tooltip: { enabled: false },
        title: {
          display: true,
          fullSize: false,
          text: cfg.title,
          color: "#000",
          font: { family: FONT, size: 16.67, weight: "normal", lineHeight: 1.2 },
          padding: { top: 8, bottom: 2 }
        },
        frame: { fill: cfg.background },
        boxLegend: cfg.legend || {}
      }
    }
  });
}

function landSet(shape, color, edge) {
  return {
    data: pts(shape.concat([shape[0]])),
    borderColor: edge,
    borderWidth: 0.7,
    backgroundColor: color,
    fill: "shape",
    pointRadius: 0,
    tension: 0,
    order: 10
  };
}

const LAND = "#e8e8e4", COAST = "#c3c8ca", OCEAN = "#d4e6f1";
const MAP_GRID = "rgba(110,125,135,0.14)";
const landShapes = [landNorthAmerica, landSouthAmerica, landAfrica, landEurasia, landAntarctica, landGreenland, landAustralia].concat(landIslands);

panel("mapChart", [83, 31, 770, 338], 31.5, 385, {
  title: "Flight Track",
  background: OCEAN,
  x: { min: -180, max: 180, ticks: lonTicks, title: "Longitude (deg)", gridColor: MAP_GRID, gridZ: 1, dash: [2, 2], tickPad: 4 },
  y: { min: -90, max: 90, ticks: latTicks, title: "Latitude (deg)", gridColor: MAP_GRID, gridZ: 1, dash: [2, 2] },
  datasets: [
    { data: pts(lastFix), pointStyle: starMark, pointRadius: 10, showLine: false, order: 0 },
    { data: pts(launchFix), pointRadius: 8.3, pointBackgroundColor: "#27ae60", pointBorderColor: "#000", pointBorderWidth: 1.3, showLine: false, order: 1 },
    { data: pts(trackPath), borderColor: TRACK_RED, borderWidth: 4.5, borderCapStyle: "round", borderJoinStyle: "round", pointRadius: 2.2, pointBackgroundColor: TRACK_RED, pointBorderWidth: 0, tension: 0, order: 2 },
    { data: pts(borderLines), borderColor: "#dcdcd8", borderWidth: 0.7, pointRadius: 0, tension: 0, order: 8 },
    ...waterShapes.map(s => Object.assign(landSet(s, OCEAN, COAST), { order: 9 })),
    ...landShapes.map(s => landSet(s, LAND, COAST))
  ],
  legend: {
    box: [90, 283, 79, 50],
    rows: [
      { kind: "dot", x0: 94, x1: 114, y: 292, size: 1.8, color: TRACK_RED, label: "Track", tx: 124 },
      { kind: "circle", x0: 94, x1: 115, y: 308, size: 8, color: "#27ae60", label: "Launch", tx: 125 },
      { kind: "star", x0: 94, x1: 115, y: 323, label: "Last fix", tx: 124 }
    ]
  }
});

panel("windChart", [83, 420, 770, 727], 38.5, 787, {
  title: "Wind Speed vs. Time",
  x: { min: -1.93, max: 40.48, ticks: dateTicks, labels: dateLabels, rotate: 20 },
  y: { min: 0, max: 72.7, ticks: windTicks, title: "Wind speed (m s\u207b\u00b9)" },
  datasets: [
    { data: zip(bandDays, bandUpper), borderWidth: 0, pointRadius: 0, tension: 0, fill: "+1", backgroundColor: "rgba(127,140,141,0.35)", order: 3 },
    { data: zip(bandDays, bandLower), borderWidth: 0, pointRadius: 0, tension: 0, fill: false, order: 4 },
    { data: pts(windPoints), showLine: false, pointRadius: 2.1, pointBackgroundColor: "#2c3e50", pointBorderWidth: 0, order: 1 },
    { data: zip(meanWindDays, meanWind), borderColor: TRACK_RED, borderWidth: 1.4, pointRadius: 0, tension: 0, order: 0 }
  ],
  legend: {
    box: [603, 426, 161, 49],
    rows: [
      { kind: "patch", x0: 607, x1: 630, y: 435, color: "rgba(127,140,141,0.35)", label: "\u00b11\u03c3 propagated error", tx: 638 },
      { kind: "dot", x0: 607, x1: 630, y: 450.5, size: 2, color: "#2c3e50", label: "Wind speed", tx: 638 },
      { kind: "line", x0: 607, x1: 630, y: 466, color: TRACK_RED, label: "Daily mean", tx: 638 }
    ]
  }
});

panel("latChart", [868, 420, 1555, 727], 816, 787, {
  title: "Latitude vs. Time",
  x: { min: -1.483, max: 40.44, ticks: dateTicks, labels: dateLabels, rotate: 20 },
  y: { min: -90, max: 90, ticks: latTicks, title: "Latitude (deg)" },
  datasets: [
    { data: pts(latPath), borderColor: "#000", borderWidth: 4.6, borderCapStyle: "round", borderJoinStyle: "round", pointRadius: 2.3, pointBackgroundColor: "#000", pointBorderWidth: 0, tension: 0 }
  ]
});

panel("altChart", [83, 808, 770, 1115], 17, 1182, {
  title: "Balloon Altitude vs. Time",
  x: { min: -1.93, max: 40.48, ticks: dateTicks, labels: dateLabels, rotate: 20, title: "UTC date" },
  y: { min: 14278.3, max: 15053.7, ticks: altTicks, title: "Altitude (m AMSL)" },
  datasets: [
    { data: zip(meanAltDays, meanAlt), borderColor: TRACK_RED, borderWidth: 1.8, pointRadius: 0, tension: 0, order: 0 },
    { data: pts(altPath), borderColor: "#7f8c8d", borderWidth: 4.6, borderCapStyle: "round", pointRadius: 2, pointBackgroundColor: "#7f8c8d", pointBorderWidth: 0, tension: 0, order: 1 }
  ]
});

panel("histChart", [868, 808, 1555, 1115], 820, 1164, {
  type: "bar",
  title: "U and V Wind Components",
  x: { min: -100, max: 100, ticks: histXTicks, title: "Wind speed (m s\u207b\u00b9)", tickPad: 4 },
  y: { min: 0, max: 418.6, ticks: histYTicks, title: "Frequency" },
  datasets: [
    { label: "U (zonal)", data: zip(binCentres, uCounts), grouped: false, barPercentage: 1, categoryPercentage: 1, backgroundColor: "rgba(31,119,180,0.65)", borderColor: "rgba(0,0,0,0.65)", borderWidth: 1, order: 2 },
    { label: "V (meridional)", data: zip(binCentres, vCounts), grouped: false, barPercentage: 1, categoryPercentage: 1, backgroundColor: "rgba(255,127,14,0.65)", borderColor: "rgba(0,0,0,0.65)", borderWidth: 1, order: 1 }
  ],
  legend: {
    box: [1431, 814, 118, 35],
    rows: [
      { kind: "patch", x0: 1434, x1: 1457, y: 823, color: "rgba(31,119,180,0.65)", edge: "rgba(0,0,0,0.65)", label: "U (zonal)", tx: 1465 },
      { kind: "patch", x0: 1434, x1: 1457, y: 838.5, color: "rgba(255,127,14,0.65)", edge: "rgba(0,0,0,0.65)", label: "V (meridional)", tx: 1465 }
    ]
  }
});

infoLines.forEach(([text, x, y, size, color]) => {
  const d = document.createElement("div");
  d.className = "info";
  d.textContent = text;
  d.style.left = x + "px";
  d.style.top = y + "px";
  d.style.fontSize = size + "px";
  d.style.color = color;
  document.body.appendChild(d);
});
</script>
</body>
</html>
